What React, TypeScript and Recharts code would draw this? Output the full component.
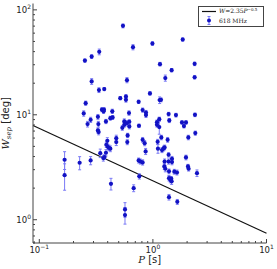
import React from "react";
import { ScatterChart, Scatter, XAxis, YAxis, ErrorBar, ReferenceLine, Legend } from "recharts";

// pulse period P [s]
const periods = [
  0.545, 1.83, 0.99, 0.668, 0.337, 0.289, 0.252, 1.154, 2.33, 1.462,
  1.286, 2.33, 0.591, 0.289, 0.942, 0.335, 0.373, 0.516, 0.579, 0.579,
  1.146, 1.178, 0.749, 0.256, 0.356, 0.368, 0.371, 0.439, 0.616, 0.812,
  0.869, 0.869, 0.246, 1.375, 1.596, 2.346, 0.328, 0.422, 0.442, 0.283,
  1.138, 1.394, 0.386, 0.56, 0.591, 0.62, 1.086, 1.803, 1.955, 0.266,
  0.331, 0.56, 1.086, 1.138, 0.62, 0.538, 0.754, 1.877, 0.328, 0.333,
  2.362, 1.186, 0.599, 2.05, 0.476, 0.476, 0.397, 0.389, 0.4, 0.41,
  0.422, 0.595, 0.812, 0.846, 0.863, 0.344, 0.386, 0.366, 0.167, 0.167,
  0.2265, 0.283, 0.749, 0.775, 0.812, 1.348, 1.101, 1.108, 1.202, 1.243,
  1.268, 1.375, 1.268, 1.375, 1.472, 1.472, 1.26, 1.286, 1.955, 2.036,
  2.063, 1.385, 1.543, 1.629, 2.443, 1.385, 1.423, 1.462, 1.45, 0.759,
  0.4275, 0.677, 0.568, 0.568, 1.385, 1.64, 0.375,
];

// W_sep [deg]
const widths = [
  70.4, 52.2, 47.8, 44.1, 39.8, 35.9, 32.9, 30.4, 30.6, 26.6,
  22.4, 22.8, 21.4, 20.8, 16.0, 17.2, 17.6, 14.4, 14.9, 13.9,
  13.8, 13.9, 13.3, 12.9, 11.2, 10.8, 11.2, 10.8, 10.4, 11.1,
  10.5, 9.93, 10.3, 10.15, 9.93, 10.0, 9.57, 9.29, 9.43, 8.96,
  9.09, 8.83, 8.64, 8.64, 8.33, 8.58, 8.51, 8.45, 8.45, 8.15,
  8.15, 8.03, 8.03, 7.63, 7.74, 7.52, 7.86, 7.8, 7.09, 6.84,
  6.69, 6.08, 6.36, 6.08, 5.99, 5.49, 5.65, 5.18, 4.96, 4.85,
  4.75, 5.49, 5.78, 5.37, 4.48, 4.31, 4.35, 3.87, 3.73, 2.66,
  3.49, 3.67, 3.67, 3.59, 3.52, 5.78, 5.53, 4.75, 4.61, 4.78,
  4.89, 4.16, 3.59, 3.59, 3.81, 3.54, 3.22, 3.06, 3.92, 3.22,
  3.06, 2.89, 2.87, 2.82, 2.78, 2.49, 2.4, 2.32, 2.46, 2.59,
  2.2, 2.0, 1.254, 1.108, 1.64, 1.48, 3.95,
];

const widthErrs = [
  3, 2, 2, 2.5, 2.5, 1.5, 1.2, 1.2, 1.2, 1.0,
  1.5, 0.9, 1.2, 1.3, 0.6, 0.9, 0.6, 0.5, 0.7, 0.7,
  1.0, 0.6, 0.5, 0.6, 0.5, 0.5, 0.5, 0.5, 0.5, 0.5,
  0.5, 0.5, 0.6, 0.4, 0.4, 0.4, 0.5, 0.4, 0.4, 0.5,
  0.4, 0.4, 0.4, 0.5, 0.5, 0.4, 0.4, 0.3, 0.3, 0.5,
  0.5, 0.4, 0.4, 1.1, 0.4, 0.4, 0.3, 0.3, 0.4, 0.4,
  0.3, 0.3, 0.3, 0.3, 0.4, 0.4, 0.4, 0.3, 0.3, 0.3,
  0.3, 0.3, 0.3, 0.3, 0.3, 0.4, 0.3, 0.25, 0.72, 0.75,
  0.5, 0.33, 0.2, 0.2, 0.2, 0.3, 0.3, 0.45, 0.25, 0.25,
  0.25, 0.2, 0.2, 0.2, 0.2, 0.2, 0.2, 0.2, 0.2, 0.15,
  0.15, 0.15, 0.15, 0.15, 0.2, 0.15, 0.15, 0.15, 0.12, 0.15,
  0.28, 0.15, 0.2, 0.2, 0.1, 0.08, 0.2,
];

// W = 2.35 P^-0.5 across the plotted period range
const fitP = [0.088, 10];
const fitW = [7.92, 0.743];

const xDomain = [0.088, 10];
const yDomain = [0.6, 115];
const xTicks = [0.09, 0.1, 0.2, 0.3, 0.4, 0.5, 0.6, 0.7, 0.8, 0.9, 1, 2, 3, 4, 5, 6, 7, 8, 9, 10];
const yTicks = [0.6, 0.7, 0.8, 0.9, 1, 2, 3, 4, 5, 6, 7, 8, 9, 10, 20, 30, 40, 50, 60, 70, 80, 90, 100];

const points = periods.map((P, i) => ({ P, W: widths[i], err: widthErrs[i] }));

const frame = "#444";
const dotColor = "#1212c4";
const errColor = "#7a7af5";

const isMajor = (v: number) => Math.abs(Math.log10(v) - Math.round(Math.log10(v))) < 1e-9;

function Pow({ x, y, v, anchor }: any) {
  const e = Math.round(Math.log10(v));
  return (
    <text x={x} y={y} textAnchor={anchor} fontFamily="DejaVu Sans" fontSize={8.5} fill="#222">
      10
      <tspan dy={-4} fontSize={6}>{e < 0 ? "\u2212" + -e : String(e)}</tspan>
    </text>
  );
}

const BottomTick = ({ x, y, payload }: any) => {
  const major = isMajor(payload.value);
  return (
    <g>
      <line x1={x} x2={x} y1={y} y2={y - (major ? 4 : 2)} stroke={frame} />
      {major && <Pow x={x} y={y + 10} v={payload.value} anchor="middle" />}
    </g>
  );
};

const TopTick = ({ x, y, payload }: any) => (
  <line x1={x} x2={x} y1={y} y2={y + (isMajor(payload.value) ? 4 : 2)} stroke={frame} />
);

const LeftTick = ({ x, y, payload }: any) => {
  const major = isMajor(payload.value);
  return (
    <g>
      <line x1={x} x2={x + (major ? 4 : 2)} y1={y} y2={y} stroke={frame} />
      {major && <Pow x={x - 2} y={y + 3} v={payload.value} anchor="end" />}
    </g>
  );
};

const RightTick = ({ x, y, payload }: any) => (
  <line x1={x} x2={x - (isMajor(payload.value) ? 4 : 2)} y1={y} y2={y} stroke={frame} />
);

const Dot = (props: any) => <circle cx={props.cx} cy={props.cy} r={2.1} fill={dotColor} />;

const XLabel = ({ viewBox }: any) => (
  <text x={viewBox.x + viewBox.width / 2} y={viewBox.y + 20} textAnchor="middle" fontSize={10} fill="#222">
    <tspan fontFamily="DejaVu Serif" fontStyle="italic">P</tspan>
    <tspan fontFamily="DejaVu Sans"> [s]</tspan>
  </text>
);

const YLabel = ({ viewBox }: any) => {
  const cx = 9;
  const cy = viewBox.y + viewBox.height / 2;
  return (
    <text x={cx} y={cy} transform={`rotate(-90 ${cx} ${cy})`} textAnchor="middle" fontSize={10} fill="#222">
      <tspan fontFamily="DejaVu Serif" fontStyle="italic">W</tspan>
      <tspan fontFamily="DejaVu Serif" fontStyle="italic" fontSize={7} dy={2}>sep</tspan>
      <tspan fontFamily="DejaVu Sans" dy={-2}> [deg]</tspan>
    </text>
  );
};

const LegendBox = () => (
  <div
    style={{
      boxSizing: "border-box",
      width: 66,
      height: 21,
      border: `1px solid ${frame}`,
      background: "#fff",
      padding: "0 0 0 3px",
      fontFamily: '"DejaVu Serif", serif',
      fontSize: 6,
      lineHeight: "9.5px",
      color: "#111",
    }}
  >
    <div style={{ display: "flex", alignItems: "center", height: 9.5 }}>
      <svg width={14} height={9} style={{ display: "block" }}>
        <line x1={0} x2={14} y1={4.5} y2={4.5} stroke="#111" strokeWidth={1.2} />
      </svg>
      <span style={{ marginLeft: 3, whiteSpace: "nowrap" }}>
        <i>W</i>=2.35<i>P</i>
        <span style={{ fontSize: 4, position: "relative", top: -2 }}>{"\u2212"}0.5</span>
      </span>
    </div>
    <div style={{ display: "flex", alignItems: "center", height: 9.5 }}>
      <svg width={14} height={9} style={{ display: "block" }}>
        <line x1={7} x2={7} y1={0.5} y2={8.5} stroke={errColor} />
        <line x1={5.5} x2={8.5} y1={0.5} y2={0.5} stroke={errColor} />
        <line x1={5.5} x2={8.5} y1={8.5} y2={8.5} stroke={errColor} />
        <circle cx={7} cy={4.5} r={2} fill={dotColor} />
      </svg>
      <span style={{ marginLeft: 3, whiteSpace: "nowrap" }}>618 MHz</span>
    </div>
  </div>
);

export default function App() {
  return (
    <div style={{ width: 277, height: 269, position: "relative", background: "#fff" }}>
      <style>{"body{margin:0;background:#fff}"}</style>
      <ScatterChart width={277} height={269} margin={{ top: 3.5, right: 10.5, bottom: 0, left: 0 }}>
        <XAxis
          dataKey="P"
          type="number"
          scale="log"
          domain={xDomain}
          allowDataOverflow
          ticks={xTicks}
          interval={0}
          tickSize={0}
          tickMargin={0}
          tickLine={false}
          tick={BottomTick}
          axisLine={{ stroke: frame }}
          height={26}
          label={{ content: XLabel }}
        />
        <XAxis
          xAxisId="top"
          orientation="top"
          type="number"
          scale="log"
          domain={xDomain}
          allowDataOverflow
          ticks={xTicks}
          interval={0}
          tickSize={0}
          tickMargin={0}
          tickLine={false}
          tick={TopTick}
          axisLine={{ stroke: frame }}
          height={0}
        />
        <YAxis
          dataKey="W"
          type="number"
          scale="log"
          domain={yDomain}
          allowDataOverflow
          ticks={yTicks}
          interval={0}
          tickSize={0}
          tickMargin={0}
          tickLine={false}
          tick={LeftTick}
          axisLine={{ stroke: frame }}
          width={33}
          label={{ content: YLabel }}
        />
        <YAxis
          yAxisId="right"
          orientation="right"
          type="number"
          scale="log"
          domain={yDomain}
          allowDataOverflow
          ticks={yTicks}
          interval={0}
          tickSize={0}
          tickMargin={0}
          tickLine={false}
          tick={RightTick}
          axisLine={{ stroke: frame }}
          width={0}
        />
        <ReferenceLine
          segment={fitP.map((p, i) => ({ x: p, y: fitW[i] }))}
          stroke="#111"
          strokeWidth={1.2}
          ifOverflow="visible"
        />
        <Scatter data={points} fill={dotColor} shape={Dot} isAnimationActive={false}>
          <ErrorBar dataKey="err" direction="y" width={1.5} stroke={errColor} strokeWidth={1} isAnimationActive={false} />
        </Scatter>
        <Legend
          layout="horizontal"
          verticalAlign="middle"
          align="center"
          content={LegendBox}
          wrapperStyle={{ position: "absolute", left: 198, top: 5.5, width: "auto", height: "auto" }}
        />
      </ScatterChart>
    </div>
  );
}
